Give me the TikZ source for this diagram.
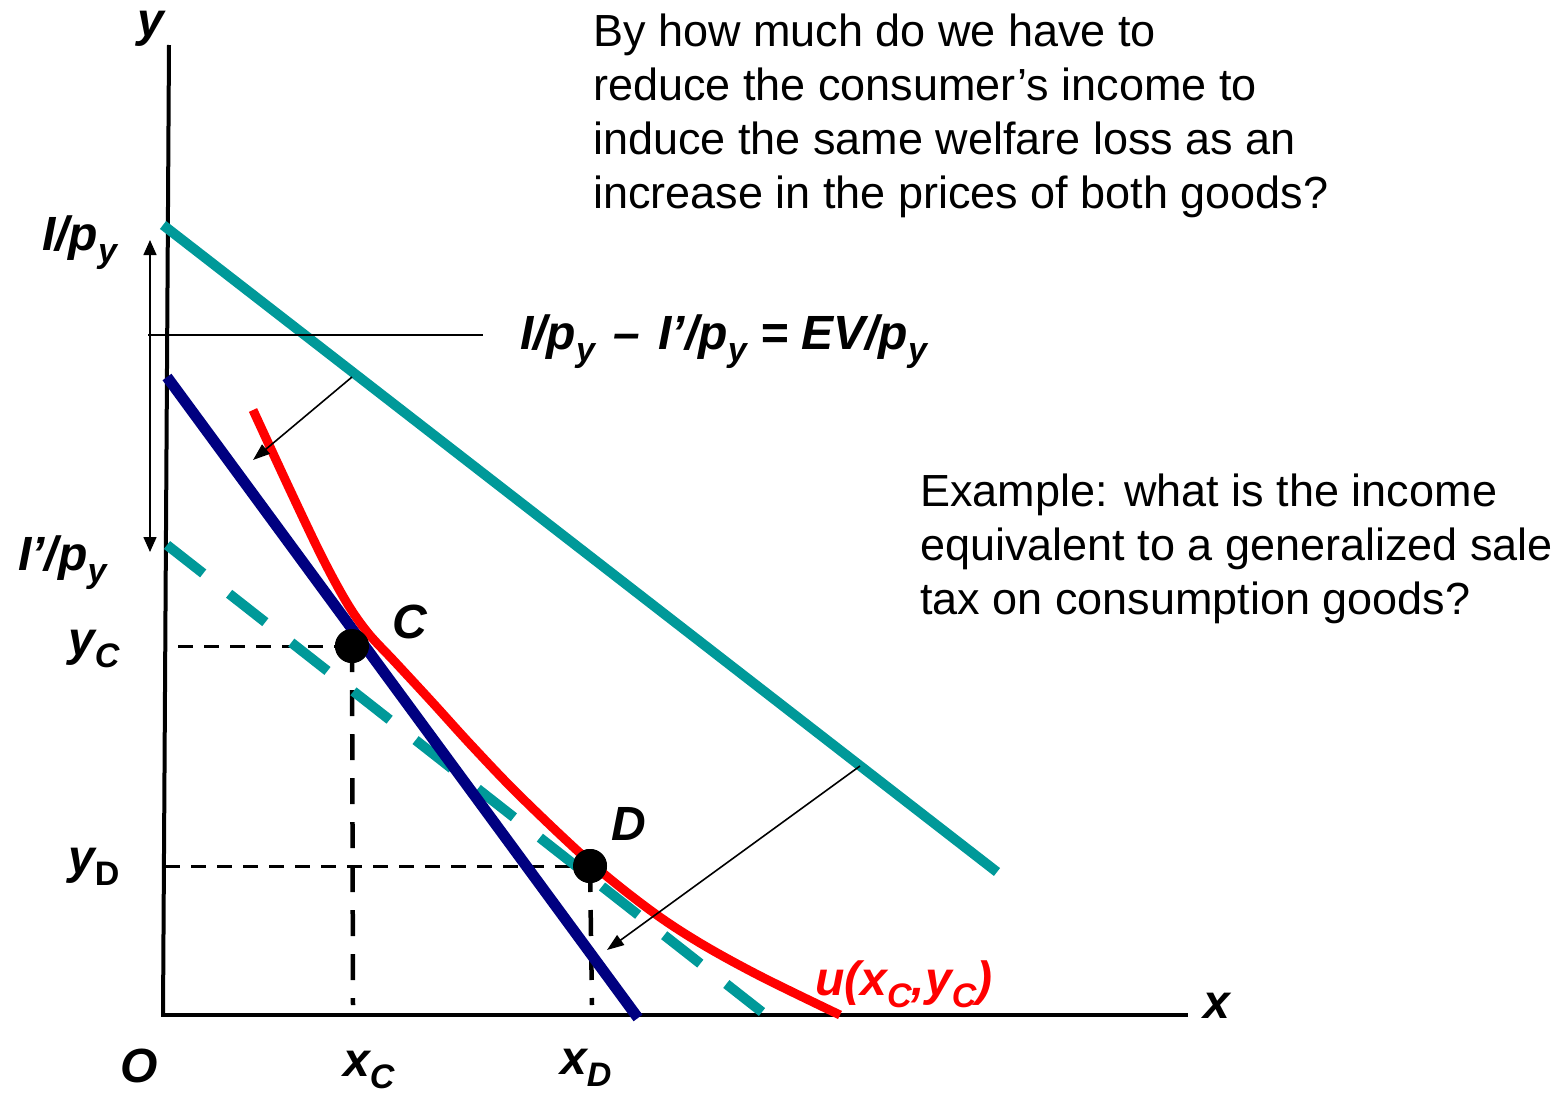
\documentclass[tikz,border=0pt]{standalone}
\usepackage{fontspec}
\setmainfont{Liberation Sans}
\usetikzlibrary{arrows.meta}
\definecolor{tealc}{HTML}{009999}
\definecolor{navyc}{HTML}{000080}
\definecolor{redc}{HTML}{FF0000}
\newcommand\lblfont{\fontsize{48}{48}\selectfont\bfseries\itshape}
\newcommand\sbs[1]{\raisebox{-0.26em}{\fontsize{34}{34}\selectfont #1}}
\tikzset{
  lab/.style={font=\lblfont, inner sep=0pt, anchor=base west},
  bodytext/.style={font=\fontsize{45}{45}\selectfont, inner sep=0pt, anchor=base west},
  axisline/.style={line width=4pt, black},
  budget/.style={line width=10pt, tealc},
  budgetnew/.style={line width=10pt, tealc, dash pattern=on 46pt off 33pt},
  navyline/.style={line width=11pt, navyc},
  indiff/.style={line width=9pt, redc, line join=round},
  guideh/.style={line width=3pt, black, dash pattern=on 15pt off 11pt},
  guidev/.style={line width=4.5pt, black, dash pattern=on 26pt off 18pt},
  thinline/.style={line width=1.5pt, black},
  shiftarrow/.style={line width=1.6pt, black, -{Triangle[length=17pt,width=12pt]}},
  gaparrow/.style={line width=1.5pt, black, {Triangle[length=15pt,width=13pt]}-{Triangle[length=15pt,width=13pt]}},
  dot/.style={circle, fill=black, minimum size=34pt, inner sep=0pt},
}
\begin{document}
\begin{tikzpicture}[x=1pt,y=-1pt]
\useasboundingbox (0,0) rectangle (1561,1095);
% coordinates
\coordinate (ytop) at (169,45);
\coordinate (origin) at (163,1015);
\coordinate (xend) at (1188,1015);
\coordinate (t1) at (163,225);
\coordinate (t2) at (997,872);
\coordinate (n1) at (167,377);
\coordinate (n2) at (638,1018);
\coordinate (d1) at (167,545);
\coordinate (d2) at (762,1012);
\coordinate (gtop) at (150,240);
\coordinate (gbot) at (150,552);
\coordinate (hl1) at (148,335);
\coordinate (hl2) at (483,335);
\coordinate (a1s) at (352,377);
\coordinate (a1e) at (253,460);
\coordinate (a2s) at (860,766);
\coordinate (a2e) at (607,950);
\coordinate (ycax) at (178,646);
\coordinate (ydax) at (165,866);
\coordinate (xcax) at (353,1005);
\coordinate (xdax) at (592,1005);
% axes
\draw[axisline] (ytop) -- (origin);
\draw[axisline] (161,1015) -- (xend);
% guides
\node[dot] (C) at (352,646) {};
\node[dot] (D) at (590,866) {};
\draw[guideh] (ycax) -- (C.center);
\draw[guideh] (ydax) -- (D.center);
\draw[guidev] (C.center) -- (xcax);
\draw[guidev] (D.center) -- (xdax);
% budget lines
\draw[budget] (t1) -- (t2);
\draw[budgetnew] (d1) -- (d2);
\draw[navyline] (n1) -- (n2);
% indifference curve
\draw[indiff] plot[smooth, tension=0.55] coordinates {(253,410) (290,490) (322,557) (347,603) (368,633) (395,662) (432,702) (472,746) (520,796) (590,862) (650,910) (700,943) (760,976) (840,1015)};
\node[dot] at (C) {};
\node[dot] at (D) {};
% thin lines and arrows
\draw[thinline] (hl1) -- (hl2);
\draw[gaparrow] (gtop) -- (gbot);
\draw[shiftarrow] (a1s) -- (a1e);
\draw[shiftarrow] (a2s) -- (a2e);
% labels
\node[lab] (ylab) at (137,36) {y};
\node[lab] (xlab) at (1203,1018) {x};
\node[lab] (olab) at (120,1082) {O};
\node[lab] (ipy) at (42,250) {I/p\sbs{y}};
\node[lab] (ippy) at (18,570) {I’/p\sbs{y}};
\node[lab] (yc) at (68,655) {y\sbs{C}};
\node[lab] (yd) at (68,873) {y\sbs{\upshape D}};
\node[lab] (xc) at (343,1076) {x\sbs{C}};
\node[lab] (xd) at (560,1074) {x\sbs{D}};
\node[lab] (clab) at (392,638) {C};
\node[lab] (dlab) at (611,840) {D};
\node[lab, text=redc] (ulab) at (815,995) {u(x\sbs{C},y\sbs{C})};
\node[lab] (eq) at (520,349) {I/p\sbs{y}\ \hspace{5pt}–\ \hspace{5pt}I’/p\sbs{y}\ = EV/p\sbs{y}};
% text blocks
\node[bodytext] (b1) at (593,46) {By how much do we have to};
\node[bodytext] (b2) at (593,100) {reduce the consumer’s income to};
\node[bodytext] (b3) at (593,154) {induce the same welfare loss as an};
\node[bodytext] (b4) at (593,208) {increase in the prices of both goods?};
\node[bodytext] (e1) at (920,506) {Example: what is the income};
\node[bodytext] (e2) at (920,560) {equivalent to a generalized sale};
\node[bodytext] (e3) at (920,614) {tax on consumption goods?};
\end{tikzpicture}
\end{document}
